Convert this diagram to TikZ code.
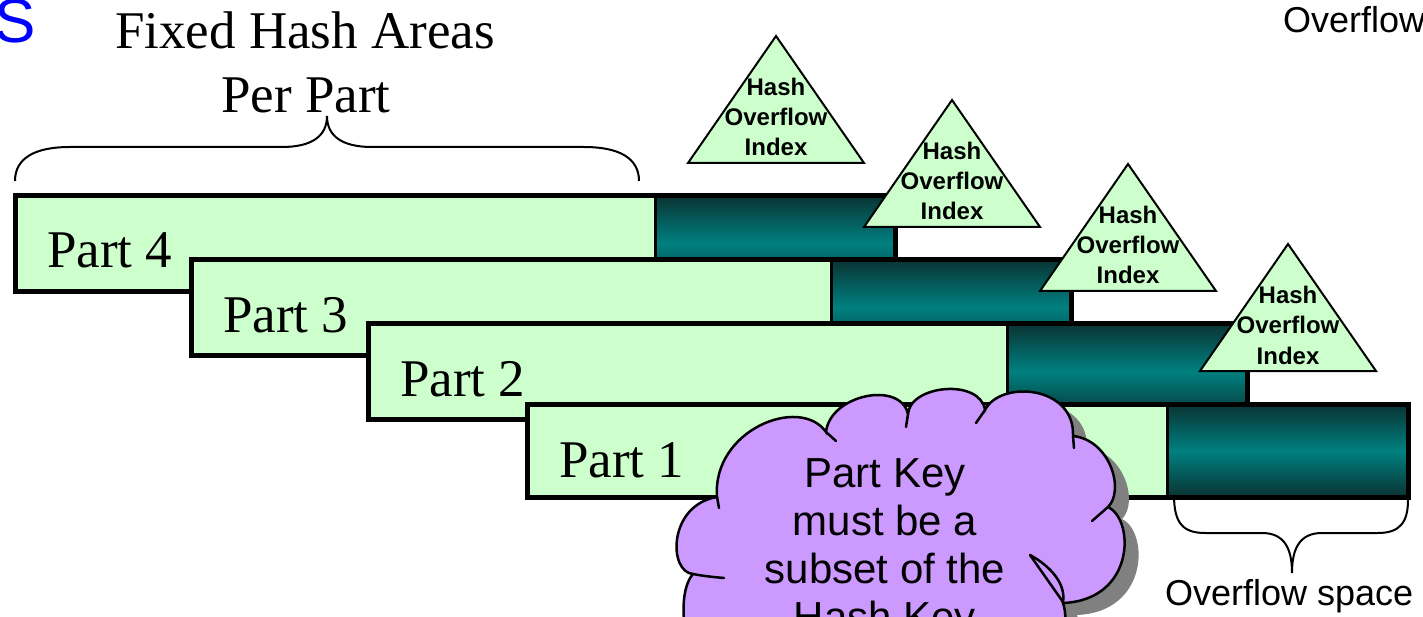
\documentclass[tikz,border=0pt]{standalone}
\usepackage{fontspec}
\setmainfont{Liberation Serif}
\newfontfamily\arialf{Liberation Sans}
\definecolor{lgreen}{HTML}{CCFFCC}
\definecolor{tdark}{HTML}{0A3333}
\definecolor{tmid}{HTML}{008080}
\definecolor{cloudc}{HTML}{CC99FF}
\definecolor{shadowc}{HTML}{808080}
\definecolor{sblue}{HTML}{0000FF}
\tikzset{
  partlbl/.style={font=\fontsize{53}{60}\selectfont, anchor=base west, inner sep=0pt},
  trilbl/.style={font=\arialf\bfseries\fontsize{24}{29}\selectfont, anchor=base, inner sep=0pt},
  cloudlbl/.style={font=\arialf\fontsize{42}{48}\selectfont, anchor=base, inner sep=0pt},
  sanslbl/.style={font=\arialf\fontsize{36}{41}\selectfont, anchor=base west, inner sep=0pt},
  serlbl/.style={font=\fontsize{53}{60}\selectfont, anchor=base, inner sep=0pt},
  bracel/.style={line width=2pt},
  cloudline/.style={line width=2.5pt, line cap=round},
  cloudshape/.pic={
    \path[pic actions] (693,574) .. controls (668,572) and (668,505) .. (717,497)
      .. controls (712,430) and (800,395) .. (826,432)
      .. controls (830,395) and (900,380) .. (908,414)
      .. controls (910,385) and (980,378) .. (985,410)
      .. controls (1000,380) and (1075,385) .. (1073,436)
      .. controls (1110,440) and (1125,490) .. (1108,507)
      .. controls (1135,520) and (1135,600) .. (1063,603)
      .. controls (1075,640) and (1040,700) .. (1000,710)
      -- (740,710) .. controls (690,700) and (670,600) .. (693,574) -- cycle;
  }
}
\newcommand\partbar[5]{%
  \fill[lgreen] (#1,#2) rectangle (#3,#5);
  \shade[top color=tdark,bottom color=tdark,middle color=tmid] (#3,#2) rectangle (#4,#5);
  \draw[line width=3pt] (#3,#2) -- (#3,#5);
  \draw[line width=5pt] (#1,#2) rectangle (#4,#5);
}
\newcommand\hashtri[3]{%
  \filldraw[fill=lgreen, line width=2pt] (#1,#2) -- (#1+88,#2+127) -- (#1-88,#2+127) -- cycle;
  \node[trilbl] (#3a) at (#1,#2+60) {Hash};
  \node[trilbl] (#3b) at (#1,#2+90) {Overflow};
  \node[trilbl] (#3c) at (#1,#2+120) {Index};
}
\begin{document}
\begin{tikzpicture}[x=1pt,y=-1pt]
\useasboundingbox (0,0) rectangle (1423,617);
\clip (0,0) rectangle (1423,617);
\fill[white] (0,0) rectangle (1423,617);
% title fragments
\node[font=\arialf\fontsize{62}{68}\selectfont, text=sblue, anchor=base east, inner sep=0pt] (stitle) at (36,43) {S};
\node[sanslbl] (ovtop) at (1283,32.5) {Overflow};
\node[serlbl] (fixed1) at (305,49) {Fixed Hash Areas};
\node[serlbl] (fixed2) at (306,113) {Per Part};
% top brace
\draw[bracel] (15,181) .. controls (15,158) and (35,147) .. (70,147) -- (282,147)
  .. controls (312,147) and (327,136) .. (327,116)
  .. controls (327,136) and (342,147) .. (372,147) -- (584,147)
  .. controls (619,147) and (639,158) .. (639,181);
% bars and triangles
\partbar{15}{195.5}{655}{895}{291.5}
\node[partlbl] (p4) at (47,268) {Part 4};
\hashtri{776}{36}{ta}
\hashtri{952}{100}{tb}
\partbar{191}{259.5}{831}{1071}{355.5}
\node[partlbl] (p3) at (223,332) {Part 3};
\hashtri{1128}{164}{tc}
\partbar{368}{323.5}{1007}{1247}{419.5}
\node[partlbl] (p2) at (400,396) {Part 2};
\hashtri{1288}{244}{td}
\partbar{527}{404.5}{1167}{1408}{497}
\node[partlbl] (p1) at (559,477) {Part 1};
% bottom brace
\draw[bracel] (1174,495) .. controls (1174,522) and (1182,533) .. (1205,533) -- (1262,533)
  .. controls (1284,533) and (1292,548) .. (1292,573)
  .. controls (1292,548) and (1300,533) .. (1322,533) -- (1378,533)
  .. controls (1400,533) and (1408,522) .. (1408,500);
\node[sanslbl] (ovsp) at (1165,605) {Overflow space};
% cloud
\pic[fill=shadowc] at (14,12) {cloudshape};
\pic[fill=cloudc, draw=black, cloudline] at (0,0) {cloudshape};
\draw[cloudline] (717,497) -- (719,508);
\draw[cloudline] (693,574) .. controls (703,576) and (713,577) .. (724,578);
\draw[cloudline] (826,432) -- (836,441);
\draw[cloudline] (908,414) -- (906,427);
\draw[cloudline] (985,410) -- (976,423);
\draw[cloudline] (1073,436) -- (1074,448);
\draw[cloudline] (1108,507) -- (1092,521);
\draw[cloudline] (1030,555) -- (1063,602);
\draw[cloudline] (1030,555) .. controls (1052,567) and (1066,585) .. (1063,602);
\node[cloudlbl] (c1) at (885,487) {Part Key};
\node[cloudlbl] (c2) at (885,535) {must be a};
\node[cloudlbl] (c3) at (885,583) {subset of the};
\node[cloudlbl] (c4) at (885,631) {Hash Key};
\end{tikzpicture}
\end{document}
